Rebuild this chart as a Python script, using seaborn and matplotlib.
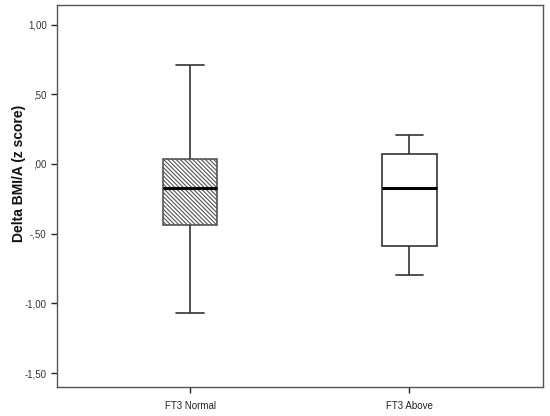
import numpy as np
import pandas as pd
import matplotlib
matplotlib.use('Agg')
import matplotlib.pyplot as plt
import seaborn as sns

# five-number summaries (min, q1, median, q3, max)
groups = ['FT3 Normal', 'FT3 Above']
ft3_normal = [-1.067, -0.438, -0.175, 0.033, 0.71]
ft3_above = [-0.80, -0.59, -0.17, 0.07, 0.21]
yticks = [1.0, 0.5, 0.0, -0.5, -1.0, -1.5]
ytick_labels = ['1,00', ',50', ',00', '-,50', '-1,00', '-1,50']

df = pd.DataFrame({
    'group': [groups[0]] * len(ft3_normal) + [groups[1]] * len(ft3_above),
    'delta': ft3_normal + ft3_above,
})

sns.set_style('white')
plt.rcParams['font.family'] = ['Liberation Sans', 'DejaVu Sans']
plt.rcParams['hatch.linewidth'] = 0.8

edge = '#333333'
fig = plt.figure(figsize=[5.5, 4.16], dpi=100)
ax = fig.add_axes([57 / 550, 1 - 387 / 416, 486 / 550, 382 / 416])

sns.boxplot(data=df, x='group', y='delta', order=groups, width=0.25, whis=1.5,
            color='white', linecolor=edge, linewidth=1.2, fill=True,
            medianprops=dict(color='black', linewidth=2.2), ax=ax)

box = ax.patches[0]
box.set_hatch('\\' * 8)
box.set_edgecolor('#555555')

ax.set_xlim(-0.607, 1.61)
ax.set_ylim(-1.60, 1.14)
ax.set_yticks(yticks)
ax.set_yticklabels(ytick_labels, fontsize=7, color='#333333')
ax.tick_params(axis='x', labelsize=7, colors='#222222', length=4, width=1, pad=6,
               direction='out', bottom=True)
ax.tick_params(axis='y', length=4, width=1, direction='out', left=True, color='#222222')
ax.set_xlabel('')
ax.set_ylabel('Delta BMI/A (z score)', fontsize=10, fontweight='bold', color='#111111')
ax.yaxis.set_label_coords(-0.064, 0.558)

for s in ax.spines.values():
    s.set_visible(True)
    s.set_color('#555555')
    s.set_linewidth(1.0)

fig.savefig('out.png', dpi=100)
